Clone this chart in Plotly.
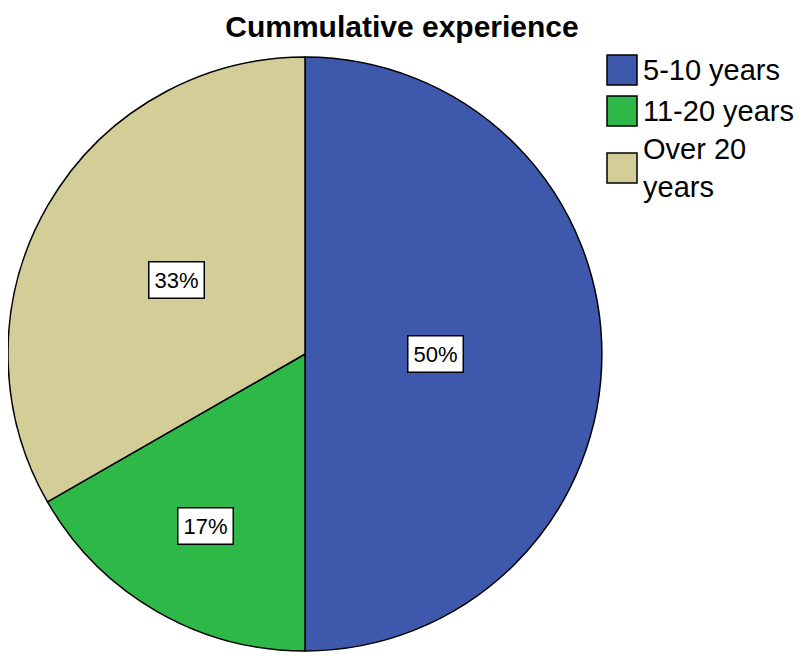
import math
import plotly.graph_objects as go

# ---- data ----
labels = ["5-10 years", "11-20 years", "Over 20 years"]
legend_text = ["5-10 years", "11-20 years", "Over 20<br>years"]
percents = [50.0, 16.7, 33.3]
title_text = "Cummulative experience"

# ---- styles ----
colors = ["#3E58AC", "#2EB848", "#D3CE97"]
OFF = 8                             # page body margin
W, H = 804 - OFF, 660 - OFF
CX, CY, R = 305, 354, 297          # pie centre / radius in page pixels
label_r = [0.44, 0.67, 0.50]        # label distance as fraction of radius
FONT = "Liberation Sans, Arial, sans-serif"


def px_x(x):
    return min(max((x - OFF) / W, 0), 1)


def px_y(y):
    return min(max(1 - (y - OFF) / H, 0), 1)


fig = go.Figure()
fig.add_trace(go.Pie(
    labels=labels,
    values=percents,
    sort=False,
    direction="clockwise",
    rotation=0,
    marker=dict(colors=colors, line=dict(color="black", width=1.5)),
    textinfo="none",
    hoverinfo="label+percent",
    showlegend=False,
    domain=dict(x=[px_x(CX - R), px_x(CX + R)],
                y=[px_y(CY + R), px_y(CY - R)]),
))

annotations = []
shapes = []

# percentage labels, placed at the angular mid-point of each slice
total = sum(percents)
acc = 0.0
for p, fr in zip(percents, label_r):
    mid = (acc + p / 2) / total * 2 * math.pi
    acc += p
    lx = CX + fr * R * math.sin(mid)
    ly = CY - fr * R * math.cos(mid)
    annotations.append(dict(
        x=px_x(lx), y=px_y(ly), xref="paper", yref="paper",
        text=f"{round(p / total * 100)}%", showarrow=False,
        font=dict(family=FONT, size=22, color="black"),
        bgcolor="white", bordercolor="black", borderwidth=1.5, borderpad=5,
        xanchor="center", yanchor="middle",
    ))

# custom legend
leg_y = [70, 111, 168]
for txt, col, y in zip(legend_text, colors, leg_y):
    shapes.append(dict(
        type="rect", xref="paper", yref="paper",
        x0=px_x(607), x1=px_x(637), y0=px_y(y + 15), y1=px_y(y - 15),
        fillcolor=col, line=dict(color="black", width=1.5),
    ))
    annotations.append(dict(
        x=px_x(641), y=px_y(y), xref="paper", yref="paper",
        text=txt, showarrow=False, align="left",
        font=dict(family=FONT, size=29, color="black"),
        xanchor="left", yanchor="middle",
    ))

fig.update_layout(
    width=W, height=H,
    margin=dict(l=0, r=0, t=0, b=0),
    paper_bgcolor="white", plot_bgcolor="white",
    title=dict(text=f"<b>{title_text}</b>", x=px_x(402), xanchor="center",
               y=px_y(26), yref="container", yanchor="middle",
               font=dict(family=FONT, size=30, color="black")),
    annotations=annotations,
    shapes=shapes,
    showlegend=False,
)

fig.write_html("out.html")
